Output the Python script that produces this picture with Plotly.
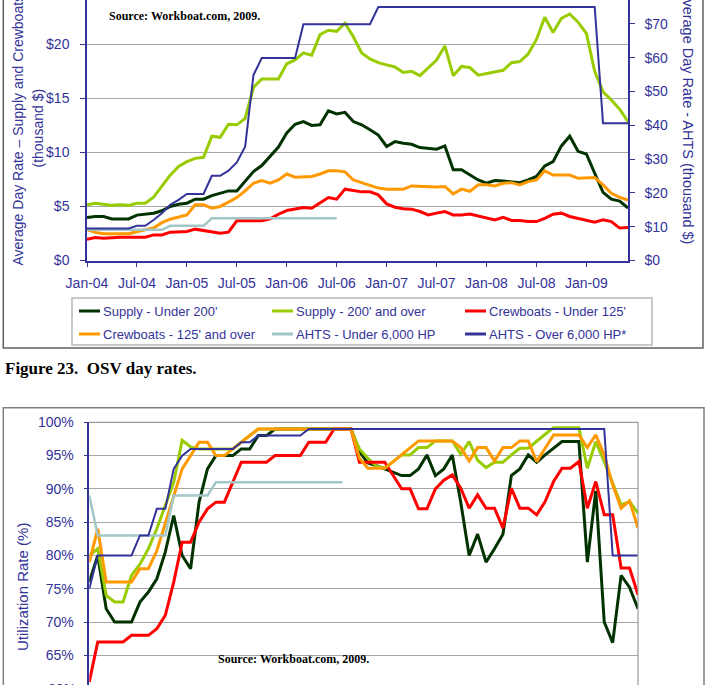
import plotly.graph_objects as go

W, H = 709, 685

# ---------------- data ----------------
months = list(range(66))  # Jan-04 .. Jun-09
tick_idx = [0, 6, 12, 18, 24, 30, 36, 42, 48, 54, 60]
tick_lbl = ["Jan-04", "Jul-04", "Jan-05", "Jul-05", "Jan-06", "Jul-06",
            "Jan-07", "Jul-07", "Jan-08", "Jul-08", "Jan-09"]
left_ticks = [0, 5, 10, 15, 20]
left_tick_lbl = ["$0", "$5", "$10", "$15", "$20"]
right_ticks = [0, 10, 20, 30, 40, 50, 60, 70]
right_tick_lbl = ["$0", "$10", "$20", "$30", "$40", "$50", "$60", "$70"]
util_ticks = [65, 70, 75, 80, 85, 90, 95, 100]
util_tick_lbl = ["65%", "70%", "75%", "80%", "85%", "90%", "95%", "100%"]

# Day rates (thousand $) - left axis
rate_supply_u200 = [3.98, 4.07, 4.07, 3.85, 3.85, 3.85, 4.2, 4.28, 4.38, 4.6, 5.0, 5.2,
                    5.3, 5.67, 5.67, 6.0, 6.2, 6.44, 6.44, 7.3, 8.23, 8.78, 9.6, 10.5,
                    11.8, 12.6, 12.85, 12.5, 12.55, 13.85, 13.55, 13.7, 12.85, 12.55, 12.1, 11.6,
                    10.55, 11.0, 10.85, 10.75, 10.45, 10.4, 10.3, 10.6, 8.4, 8.4, 7.9, 7.45,
                    7.15, 7.4, 7.35, 7.3, 7.2, 7.45, 7.77, 8.75, 9.15, 10.6, 11.5, 10.1,
                    9.85, 8.07, 6.3, 5.67, 5.5, 4.85]
rate_supply_o200 = [5.15, 5.3, 5.2, 5.1, 5.15, 5.1, 5.3, 5.3, 5.85, 6.9, 7.9, 8.7,
                    9.15, 9.45, 9.55, 11.5, 11.4, 12.6, 12.55, 13.15, 16.0, 16.8, 16.8, 16.8,
                    18.2, 18.55, 19.2, 19.0, 20.9, 21.3, 21.2, 21.95, 20.7, 19.2, 18.65, 18.3,
                    18.1, 17.9, 17.4, 17.5, 17.1, 17.8, 18.55, 19.85, 17.1, 17.95, 17.85, 17.15,
                    17.3, 17.4, 17.6, 18.3, 18.4, 19.1, 20.45, 22.5, 21.1, 22.4, 22.8, 22.05,
                    21.0, 17.5, 15.6, 14.85, 14.0, 12.85]
rate_crew_u125 = [1.97, 2.13, 2.06, 2.13, 2.16, 2.16, 2.16, 2.16, 2.37, 2.37, 2.62, 2.68,
                  2.68, 2.9, 2.77, 2.62, 2.53, 2.62, 3.67, 3.67, 3.67, 3.67, 3.85, 4.28,
                  4.62, 4.78, 4.9, 4.84, 5.3, 5.82, 5.67, 6.6, 6.47, 6.35, 6.35, 6.07,
                  5.24, 4.93, 4.78, 4.75, 4.53, 4.22, 4.38, 4.53, 4.22, 4.22, 4.3, 4.13,
                  3.9, 3.76, 4.0, 3.7, 3.7, 3.6, 3.6, 3.9, 4.28, 4.38, 4.07, 3.9,
                  3.76, 3.54, 3.76, 3.6, 3.0, 3.05]
rate_crew_o125 = [2.84, 2.6, 2.47, 2.5, 2.47, 2.47, 2.68, 2.84, 3.0, 3.5, 3.82, 4.0,
                  4.22, 5.15, 5.15, 4.84, 5.0, 5.4, 5.82, 6.44, 7.15, 7.4, 7.15, 7.45,
                  8.0, 7.7, 7.7, 7.77, 8.0, 8.3, 8.3, 8.2, 7.45, 7.2, 6.9, 6.7,
                  6.6, 6.6, 6.6, 6.9, 6.85, 6.85, 6.8, 6.85, 6.16, 6.6, 6.4, 7.0,
                  7.0, 6.9, 7.15, 7.2, 7.0, 7.3, 7.45, 8.3, 7.9, 7.9, 7.9, 7.6,
                  7.6, 7.67, 7.0, 6.22, 5.85, 5.6]
# Day rates AHTS (thousand $) - right axis
rate_ahts_u6000 = [9.1, 9.07, 9.07, 9.07, 9.07, 9.07, 9.07, 9.07, 9.07, 9.07, 10.25, 10.25,
                   10.25, 10.25, 10.25, 12.5, 12.5, 12.5, 12.5, 12.5, 12.5, 12.5, 12.5, 12.5,
                   12.5, 12.5, 12.5, 12.5, 12.5, 12.5, 12.5] + [None] * 35
rate_ahts_o6000 = [9.45, 9.45, 9.45, 9.45, 9.45, 9.45, 10.25, 10.25, 12.0, 14.0, 16.5, 17.95,
                   19.7, 19.7, 19.7, 25.05, 25.05, 26.6, 29.0, 33.7, 54.9, 59.9, 59.9, 59.9,
                   59.9, 59.9, 69.9, 69.9, 69.9, 69.9, 69.9, 69.9, 69.9, 69.9, 69.9, 75.0,
                   75.0, 75.0, 75.0, 75.0, 75.0, 75.0, 75.0, 75.0, 75.0, 75.0, 75.0, 75.0,
                   75.0, 75.0, 75.0, 75.0, 75.0, 75.0, 75.0, 75.0, 75.0, 75.0, 75.0, 75.0,
                   75.0, 75.0, 40.6, 40.6, 40.6, 40.6]

# Utilization rates (%)
util_supply_u200 = [76, 80, 72, 70, 70, 70, 73, 74.5, 76.5, 80.5, 86, 80,
                    78, 88, 93, 95, 95, 95, 96, 96, 98, 98, 99, 99,
                    99, 99, 99, 99, 99, 99, 99, 99, 95.6, 93.9, 93.5, 93,
                    92.4, 92, 92, 93, 95.1, 92, 93, 95.1, 88, 80, 83.2, 79,
                    81, 83.2, 92, 93, 95.1, 94, 95.1, 96.1, 97.1, 97.1, 97.1, 79,
                    89.7, 70, 66.9, 77, 75.2, 72]
util_supply_o200 = [80, 81, 74, 73, 73, 77, 78.7, 81, 84, 87.6, 91, 97.3,
                    96.3, 96, 96, 96, 96, 96, 97, 98, 99, 99, 99, 99,
                    99, 99, 99, 99, 99, 99, 99, 99, 96, 94.6, 93.4, 93.1,
                    94.1, 95.1, 95.1, 96.2, 96.2, 97.2, 97.2, 97.2, 95.2, 97.1, 94.3, 93.2,
                    94, 94, 95.1, 96.1, 96.1, 97.2, 98.2, 99.2, 99.2, 99.2, 99.2, 93.1,
                    97.1, 94.1, 90.7, 87.6, 88.1, 86.35]
util_crew_u125 = [61, 67, 67, 67, 67, 68, 68, 68, 69, 71, 76, 82,
                  82, 85, 87, 88, 88, 91, 94, 94, 94, 94, 95, 95,
                  95, 95, 97, 97, 97, 99, 99, 99, 94, 94, 94, 94,
                  92, 90, 90, 87, 87, 90, 91.3, 92.1, 90.1, 87.1, 89.1, 87.1,
                  87.1, 84.1, 90.1, 87.1, 87.1, 86.1, 88.1, 91.1, 93.1, 93.1, 94.1, 87.1,
                  91.1, 86.1, 86.1, 78.1, 78.1, 74.1]
util_crew_o125 = [79, 84, 76, 76, 76, 76, 78, 78, 80.7, 84.8, 89, 93,
                  95, 97, 97, 95, 95, 96, 97, 98, 99, 99, 99, 99,
                  99, 99, 99, 99, 99, 99, 99, 99, 94.6, 93.1, 93.1, 93.1,
                  94.1, 95.1, 96.2, 97.2, 97.2, 97.2, 97.2, 97.2, 96.2, 94.2, 96.2, 96.2,
                  94.2, 96.2, 96.2, 97.2, 97.2, 94.1, 96.1, 98.1, 98.1, 98.1, 98.1, 96.2,
                  98.1, 95.1, 90.6, 87.1, 88.2, 84.1]
util_ahts_u6000 = [89, 83, 83, 83, 83, 83, 83, 83, 83, 83, 89, 89,
                   89, 89, 89, 91, 91, 91, 91, 91, 91, 91, 91, 91,
                   91, 91, 91, 91, 91, 91, 91] + [None] * 35
util_ahts_o6000 = [75, 80, 80, 80, 80, 80, 83, 83, 87, 87, 93, 95,
                   96, 96, 96, 96, 96, 96, 97, 97, 98, 98, 98, 98,
                   98, 98] + [99] * 36 + [80, 80, 80, 80]

series_names = ["Supply - Under 200'", "Supply - 200' and over", "Crewboats - Under 125'",
                "Crewboats - 125' and over", "AHTS - Under 6,000 HP", "AHTS - Over 6,000 HP*"]
series_colors = ["#003300", "#99cc00", "#ff0000", "#ff9900", "#a3c6c6", "#333399"]
series_widths = [3, 3, 3, 3, 2.5, 2]

rates = [rate_supply_u200, rate_supply_o200, rate_crew_u125, rate_crew_o125,
         rate_ahts_u6000, rate_ahts_o6000]
rate_axis = ["y", "y", "y", "y", "y2", "y2"]
utils = [util_supply_u200, util_supply_o200, util_crew_u125, util_crew_o125,
         util_ahts_u6000, util_ahts_o6000]

# ---------------- helpers ----------------
def PX(x):
    return x / W

def PY(y):
    return 1 - y / H

AX = "#333399"
GRID = "#a6a6a6"
FONT = "Liberation Sans, Arial, sans-serif"
SERIF = "Liberation Serif, Times New Roman, serif"

fig = go.Figure()

for vals, name, col, wd, ax in zip(rates, series_names, series_colors, series_widths, rate_axis):
    fig.add_trace(go.Scatter(x=months, y=vals, mode="lines", name=name, xaxis="x", yaxis=ax,
                             line=dict(color=col, width=wd), showlegend=False, connectgaps=False,
                             hoverinfo="skip"))

for vals, name, col, wd in zip(utils, series_names, series_colors, series_widths):
    fig.add_trace(go.Scatter(x=months, y=vals, mode="lines", name=name, xaxis="x3", yaxis="y3",
                             line=dict(color=col, width=wd), showlegend=False, connectgaps=False,
                             hoverinfo="skip"))

top_bottom = 260.5
bot_top = 422.3
bot_left, bot_right = 89.3, 638

fig.update_layout(
    template="none",
    width=W, height=H,
    autosize=False,
    margin=dict(l=0, r=0, t=0, b=0, pad=0, autoexpand=False),
    paper_bgcolor="white", plot_bgcolor="white",
    showlegend=False,
    font=dict(family=FONT, color=AX, size=14),
    xaxis=dict(domain=[PX(87), PX(628)], range=[0, 65], anchor="y", automargin=False,
               tickmode="array", tickvals=tick_idx, ticktext=tick_lbl,
               showline=True, linecolor=AX, linewidth=1.5, ticks="outside", ticklen=5,
               tickcolor=AX, showgrid=False, zeroline=False,
               tickfont=dict(size=14, color=AX, family=FONT), tickangle=0,
               ticklabelstandoff=4),
    yaxis=dict(domain=[PY(top_bottom), 1], range=[0, top_bottom / 10.81], anchor="x", automargin=False,
               tickmode="array", tickvals=left_ticks, ticktext=left_tick_lbl,
               showline=True, linecolor=AX, linewidth=1.5, ticks="outside", ticklen=5,
               tickcolor=AX, showgrid=True, gridcolor=GRID, gridwidth=1, zeroline=False,
               tickfont=dict(size=14, color=AX, family=FONT), ticklabelstandoff=8),
    yaxis2=dict(overlaying="y", side="right", anchor="x", range=[0, top_bottom / 3.379], automargin=False,
                tickmode="array", tickvals=right_ticks, ticktext=right_tick_lbl,
                showline=True, linecolor=AX, linewidth=1.5, ticks="outside", ticklen=5,
                tickcolor=AX, showgrid=False, zeroline=False,
                tickfont=dict(size=14, color=AX, family=FONT), ticklabelstandoff=7),
    xaxis3=dict(domain=[PX(bot_left), PX(bot_right)], range=[0, 65], anchor="y3", automargin=False,
                showline=False, showticklabels=False, ticks="", showgrid=False, zeroline=False),
    yaxis3=dict(domain=[0, PY(bot_top)], range=[60 + (688.6 - H) / 6.66, 100], anchor="x3",
                automargin=False,
                tickmode="array", tickvals=util_ticks, ticktext=util_tick_lbl,
                showline=True, linecolor=AX, linewidth=1.5, ticks="outside", ticklen=4,
                tickcolor=AX, showgrid=True, gridcolor=GRID, gridwidth=1, zeroline=False,
                tickfont=dict(size=14, color=AX, family=FONT), ticklabelstandoff=7),
)

shapes = []
# top chart frame
shapes.append(dict(type="rect", xref="paper", yref="paper", x0=PX(3.3), x1=PX(703), y0=PY(348), y1=PY(-5),
                   line=dict(color="#606060", width=1.5), fillcolor="rgba(0,0,0,0)", layer="below"))
# bottom chart frame
shapes.append(dict(type="rect", xref="paper", yref="paper", x0=PX(3.3), x1=PX(704), y0=PY(695), y1=PY(407.7),
                   line=dict(color="#808080", width=1.5), fillcolor="rgba(0,0,0,0)", layer="below"))
# bottom plot area border (top + right)
shapes.append(dict(type="line", xref="paper", yref="paper", x0=PX(bot_left), x1=PX(bot_right),
                   y0=PY(bot_top), y1=PY(bot_top), line=dict(color="#9a9a9a", width=1.2)))
shapes.append(dict(type="line", xref="paper", yref="paper", x0=PX(bot_right), x1=PX(bot_right),
                   y0=PY(bot_top), y1=PY(695), line=dict(color="#9a9a9a", width=1.2)))
# legend box
shapes.append(dict(type="rect", xref="paper", yref="paper", x0=PX(72), x1=PX(652), y0=PY(345), y1=PY(298),
                   line=dict(color="#b8b8b8", width=1.5), fillcolor="white"))

annotations = []
leg_cols = [79, 272, 465]
leg_rows = [311, 334]
for k, (name, col) in enumerate(zip(series_names, series_colors)):
    cx = leg_cols[k % 3]
    ry = leg_rows[k // 3]
    shapes.append(dict(type="line", xref="paper", yref="paper", x0=PX(cx), x1=PX(cx + 21),
                       y0=PY(ry), y1=PY(ry), line=dict(color=col, width=3)))
    annotations.append(dict(xref="paper", yref="paper", x=PX(cx + 22), y=PY(ry), text=name,
                            showarrow=False, xanchor="left", yanchor="middle",
                            font=dict(size=13, color=AX, family=FONT)))

# axis titles
annotations.append(dict(xref="paper", yref="paper", x=PX(17), y=PY(130.5),
                        text="Average Day Rate \u2013 Supply and Crewboats", textangle=-90,
                        showarrow=False, xanchor="center", yanchor="middle",
                        font=dict(size=14, color=AX, family=FONT)))
annotations.append(dict(xref="paper", yref="paper", x=PX(37), y=PY(128.5),
                        text="(thousand $)", textangle=-90,
                        showarrow=False, xanchor="center", yanchor="middle",
                        font=dict(size=14, color=AX, family=FONT)))
annotations.append(dict(xref="paper", yref="paper", x=PX(688), y=PY(117),
                        text="Average Day Rate - AHTS (thousand $)", textangle=90,
                        showarrow=False, xanchor="center", yanchor="middle",
                        font=dict(size=14.5, color=AX, family=FONT)))
annotations.append(dict(xref="paper", yref="paper", x=PX(22), y=PY(587),
                        text="Utilization Rate (%)", textangle=-90,
                        showarrow=False, xanchor="center", yanchor="middle",
                        font=dict(size=15, color=AX, family=FONT)))
# partially visible 60% tick label at page bottom
annotations.append(dict(xref="paper", yref="paper", x=PX(78), y=PY(688.6), text="60%",
                        showarrow=False, xanchor="right", yanchor="middle",
                        font=dict(size=14, color=AX, family=FONT)))
# sources
annotations.append(dict(xref="paper", yref="paper", x=PX(106.5), y=PY(16), text="<b>Source: Workboat.com, 2009.</b>",
                        showarrow=False, xanchor="left", yanchor="middle",
                        font=dict(size=12, color="black", family=SERIF)))
annotations.append(dict(xref="paper", yref="paper", x=PX(215.5), y=PY(659), text="<b>Source: Workboat.com, 2009.</b>",
                        showarrow=False, xanchor="left", yanchor="middle",
                        font=dict(size=12, color="black", family=SERIF)))
# caption
annotations.append(dict(xref="paper", yref="paper", x=PX(3), y=PY(368),
                        text="<b>Figure 23.\u00a0 OSV day rates.</b>",
                        showarrow=False, xanchor="left", yanchor="middle",
                        font=dict(size=17, color="black", family=SERIF)))

fig.update_layout(shapes=shapes, annotations=annotations)

fig.write_html("out.html")
